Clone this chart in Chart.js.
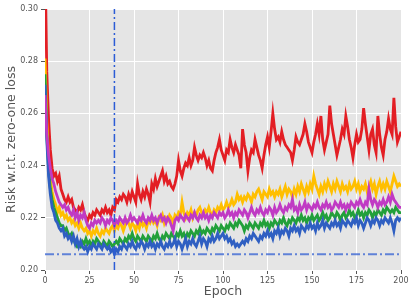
<!DOCTYPE html>
<html>
<head>
<meta charset="utf-8">
<script src="https://cdn.jsdelivr.net/npm/chart.js@4"></script>
<style>
  body { margin: 0; background: #fff; }
  canvas { display: block; }
</style>
</head>
<body>
<canvas id="lossChart" width="415" height="306"></canvas>
<script>
// risk per epoch (0..200)
const redRisk = [
  0.320, 0.276, 0.258, 0.246, 0.239, 0.236, 0.237, 0.234, 0.236, 0.231,
  0.229, 0.227, 0.226, 0.228, 0.226, 0.227, 0.224, 0.223, 0.222, 0.224,
  0.223, 0.225, 0.222, 0.220, 0.219, 0.221, 0.220, 0.222, 0.221, 0.223,
  0.222, 0.221, 0.223, 0.222, 0.224, 0.222, 0.223, 0.221, 0.224, 0.223,
  0.227, 0.226, 0.228, 0.227, 0.229, 0.228, 0.226, 0.229, 0.227, 0.230,
  0.228, 0.226, 0.233, 0.229, 0.227, 0.230, 0.228, 0.231, 0.229, 0.226,
  0.233, 0.231, 0.235, 0.232, 0.234, 0.236, 0.238, 0.234, 0.236, 0.233,
  0.234, 0.232, 0.231, 0.233, 0.236, 0.242, 0.238, 0.236, 0.239, 0.241,
  0.240, 0.243, 0.240, 0.242, 0.247, 0.244, 0.242, 0.244, 0.243, 0.245,
  0.243, 0.240, 0.242, 0.239, 0.238, 0.242, 0.245, 0.247, 0.250, 0.246,
  0.244, 0.242, 0.246, 0.245, 0.250, 0.247, 0.245, 0.248, 0.246, 0.244,
  0.239, 0.254, 0.248, 0.245, 0.238, 0.243, 0.246, 0.245, 0.250, 0.247,
  0.244, 0.242, 0.239, 0.244, 0.248, 0.251, 0.247, 0.253, 0.260, 0.254,
  0.250, 0.251, 0.249, 0.253, 0.250, 0.248, 0.247, 0.246, 0.245, 0.242,
  0.246, 0.251, 0.249, 0.248, 0.250, 0.252, 0.256, 0.253, 0.249, 0.247,
  0.245, 0.249, 0.252, 0.256, 0.252, 0.259, 0.250, 0.246, 0.249, 0.252,
  0.263, 0.256, 0.252, 0.248, 0.244, 0.247, 0.250, 0.254, 0.252, 0.259,
  0.255, 0.250, 0.247, 0.243, 0.248, 0.252, 0.249, 0.250, 0.254, 0.262,
  0.256, 0.251, 0.246, 0.252, 0.254, 0.248, 0.245, 0.259, 0.252, 0.247,
  0.244, 0.250, 0.253, 0.258, 0.254, 0.252, 0.266, 0.255, 0.249, 0.251,
  0.253
];
const yellowRisk = [
  0.281, 0.257, 0.243, 0.235, 0.230, 0.227, 0.225, 0.222, 0.224, 0.221,
  0.222, 0.220, 0.221, 0.219, 0.220, 0.218, 0.219, 0.217, 0.218, 0.216,
  0.218, 0.216, 0.215, 0.216, 0.214, 0.215, 0.213, 0.215, 0.214, 0.216,
  0.214, 0.213, 0.215, 0.214, 0.216, 0.215, 0.214, 0.216, 0.217, 0.215,
  0.217, 0.216, 0.218, 0.217, 0.215, 0.217, 0.219, 0.218, 0.216, 0.218,
  0.217, 0.215, 0.218, 0.216, 0.219, 0.217, 0.218, 0.216, 0.219, 0.218,
  0.220, 0.218, 0.219, 0.217, 0.220, 0.219, 0.221, 0.218, 0.220, 0.219,
  0.221, 0.220, 0.218, 0.221, 0.220, 0.222, 0.221, 0.226, 0.222, 0.220,
  0.222, 0.221, 0.223, 0.220, 0.222, 0.221, 0.223, 0.224, 0.222, 0.221,
  0.223, 0.222, 0.224, 0.222, 0.221, 0.223, 0.222, 0.224, 0.223, 0.225,
  0.223, 0.224, 0.226, 0.224, 0.225, 0.227, 0.225, 0.226, 0.229, 0.227,
  0.228, 0.226, 0.228, 0.227, 0.229, 0.228, 0.226, 0.229, 0.228, 0.230,
  0.231, 0.229, 0.227, 0.230, 0.229, 0.228, 0.231, 0.229, 0.230, 0.228,
  0.230, 0.229, 0.231, 0.228, 0.230, 0.232, 0.229, 0.231, 0.230, 0.228,
  0.231, 0.229, 0.232, 0.230, 0.233, 0.231, 0.229, 0.232, 0.230, 0.233,
  0.231, 0.236, 0.233, 0.231, 0.229, 0.232, 0.230, 0.233, 0.231, 0.234,
  0.232, 0.230, 0.233, 0.231, 0.234, 0.232, 0.230, 0.233, 0.231, 0.232,
  0.230, 0.233, 0.231, 0.232, 0.234, 0.231, 0.233, 0.230, 0.232, 0.231,
  0.233, 0.230, 0.232, 0.234, 0.231, 0.233, 0.229, 0.232, 0.234, 0.231,
  0.233, 0.231, 0.234, 0.232, 0.230, 0.233, 0.236, 0.234, 0.232, 0.233,
  0.232
];
const magentaRisk = [
  0.267, 0.252, 0.244, 0.239, 0.235, 0.233, 0.230, 0.228, 0.226, 0.225,
  0.224, 0.225, 0.223, 0.224, 0.222, 0.221, 0.223, 0.220, 0.222, 0.219,
  0.221, 0.220, 0.222, 0.219, 0.217, 0.216, 0.218, 0.217, 0.219, 0.218,
  0.219, 0.218, 0.220, 0.219, 0.217, 0.219, 0.218, 0.220, 0.219, 0.217,
  0.219, 0.218, 0.220, 0.219, 0.218, 0.220, 0.218, 0.219, 0.221, 0.219,
  0.220, 0.219, 0.218, 0.220, 0.219, 0.221, 0.219, 0.218, 0.220, 0.219,
  0.221, 0.219, 0.220, 0.218, 0.220, 0.221, 0.219, 0.220, 0.218, 0.220,
  0.219, 0.217, 0.215, 0.219, 0.220, 0.219, 0.221, 0.220, 0.219, 0.221,
  0.220, 0.219, 0.221, 0.220, 0.222, 0.220, 0.219, 0.221, 0.220, 0.222,
  0.220, 0.221, 0.219, 0.221, 0.220, 0.222, 0.221, 0.220, 0.222, 0.221,
  0.222, 0.220, 0.221, 0.223, 0.221, 0.222, 0.220, 0.222, 0.221, 0.223,
  0.222, 0.221, 0.223, 0.222, 0.220, 0.222, 0.224, 0.222, 0.221, 0.223,
  0.222, 0.224, 0.222, 0.221, 0.223, 0.222, 0.224, 0.223, 0.221, 0.224,
  0.222, 0.223, 0.225, 0.223, 0.222, 0.224, 0.223, 0.225, 0.224, 0.227,
  0.223, 0.224, 0.222, 0.225, 0.223, 0.224, 0.226, 0.223, 0.225, 0.224,
  0.223, 0.225, 0.224, 0.226, 0.224, 0.223, 0.225, 0.224, 0.226, 0.224,
  0.225, 0.223, 0.224, 0.226, 0.225, 0.224, 0.226, 0.224, 0.225, 0.223,
  0.225, 0.224, 0.226, 0.225, 0.224, 0.226, 0.225, 0.227, 0.225, 0.224,
  0.226, 0.225, 0.231, 0.227, 0.225, 0.227, 0.226, 0.224, 0.226, 0.225,
  0.227, 0.225, 0.226, 0.228, 0.226, 0.229, 0.227, 0.226, 0.225, 0.224,
  0.224
];
const greenRisk = [
  0.275, 0.252, 0.239, 0.231, 0.227, 0.224, 0.222, 0.220, 0.218, 0.217,
  0.217, 0.215, 0.216, 0.214, 0.213, 0.214, 0.212, 0.210, 0.209, 0.210,
  0.209, 0.211, 0.210, 0.212, 0.210, 0.211, 0.209, 0.211, 0.210, 0.212,
  0.211, 0.210, 0.209, 0.211, 0.210, 0.209, 0.211, 0.210, 0.209, 0.210,
  0.211, 0.210, 0.212, 0.211, 0.210, 0.212, 0.211, 0.213, 0.212, 0.214,
  0.212, 0.211, 0.213, 0.212, 0.211, 0.213, 0.212, 0.211, 0.213, 0.212,
  0.211, 0.213, 0.212, 0.214, 0.212, 0.211, 0.213, 0.212, 0.214, 0.213,
  0.212, 0.214, 0.213, 0.212, 0.214, 0.213, 0.215, 0.213, 0.214, 0.212,
  0.214, 0.213, 0.215, 0.214, 0.213, 0.215, 0.214, 0.216, 0.214, 0.215,
  0.214, 0.216, 0.215, 0.214, 0.216, 0.215, 0.217, 0.216, 0.215, 0.217,
  0.216, 0.215, 0.217, 0.216, 0.218, 0.217, 0.216, 0.218, 0.217, 0.219,
  0.218, 0.217, 0.215, 0.217, 0.216, 0.218, 0.217, 0.216, 0.218, 0.217,
  0.216, 0.218, 0.217, 0.219, 0.217, 0.218, 0.216, 0.218, 0.217, 0.219,
  0.218, 0.217, 0.219, 0.218, 0.220, 0.218, 0.217, 0.219, 0.218, 0.220,
  0.219, 0.218, 0.220, 0.219, 0.221, 0.219, 0.220, 0.218, 0.220, 0.219,
  0.221, 0.219, 0.220, 0.221, 0.219, 0.220, 0.222, 0.220, 0.221, 0.219,
  0.220, 0.222, 0.221, 0.220, 0.222, 0.221, 0.219, 0.221, 0.222, 0.220,
  0.221, 0.223, 0.221, 0.222, 0.220, 0.221, 0.223, 0.221, 0.222, 0.220,
  0.222, 0.221, 0.223, 0.222, 0.220, 0.222, 0.221, 0.223, 0.222, 0.221,
  0.223, 0.222, 0.224, 0.223, 0.222, 0.223, 0.222, 0.224, 0.223, 0.222,
  0.222
];
const blueRisk = [
  0.271, 0.250, 0.236, 0.229, 0.224, 0.222, 0.219, 0.218, 0.216, 0.215,
  0.216, 0.213, 0.214, 0.212, 0.213, 0.211, 0.213, 0.210, 0.212, 0.209,
  0.211, 0.209, 0.208, 0.209, 0.207, 0.209, 0.208, 0.210, 0.209, 0.208,
  0.210, 0.209, 0.208, 0.210, 0.209, 0.208, 0.209, 0.207, 0.208, 0.206,
  0.208, 0.207, 0.209, 0.208, 0.210, 0.209, 0.208, 0.210, 0.209, 0.211,
  0.209, 0.208, 0.210, 0.209, 0.211, 0.210, 0.208, 0.210, 0.209, 0.211,
  0.209, 0.210, 0.208, 0.210, 0.209, 0.211, 0.209, 0.208, 0.210, 0.209,
  0.211, 0.209, 0.210, 0.212, 0.209, 0.211, 0.210, 0.208, 0.210, 0.212,
  0.209, 0.211, 0.210, 0.212, 0.210, 0.209, 0.211, 0.213, 0.210, 0.212,
  0.211, 0.209, 0.212, 0.211, 0.213, 0.211, 0.212, 0.214, 0.212, 0.213,
  0.214, 0.212, 0.213, 0.211, 0.212, 0.210, 0.211, 0.209, 0.210, 0.209,
  0.210, 0.211, 0.210, 0.212, 0.211, 0.213, 0.212, 0.214, 0.213, 0.212,
  0.211, 0.213, 0.212, 0.214, 0.213, 0.215, 0.213, 0.214, 0.212, 0.215,
  0.214, 0.216, 0.213, 0.215, 0.214, 0.216, 0.215, 0.213, 0.216, 0.215,
  0.217, 0.215, 0.216, 0.214, 0.217, 0.216, 0.215, 0.217, 0.216, 0.218,
  0.216, 0.217, 0.215, 0.218, 0.216, 0.217, 0.219, 0.216, 0.218, 0.217,
  0.216, 0.218, 0.217, 0.219, 0.217, 0.218, 0.216, 0.219, 0.218, 0.217,
  0.219, 0.218, 0.217, 0.219, 0.218, 0.220, 0.217, 0.219, 0.218, 0.216,
  0.218, 0.220, 0.219, 0.217, 0.219, 0.218, 0.220, 0.219, 0.217, 0.219,
  0.218, 0.220, 0.219, 0.218, 0.220, 0.218, 0.215, 0.219, 0.220, 0.219,
  0.220
];

// reference lines: chosen epoch and best risk
const bestEpoch = 39;
const bestRisk = 0.206;

const xTicks = [0, 25, 50, 75, 100, 125, 150, 175, 200];
const yTicks = [0.20, 0.22, 0.24, 0.26, 0.28, 0.30];

const TICK_COLOR = '#555555';

function toPoints(values) {
  return values.map((v, i) => ({ x: i, y: v }));
}

function seriesDataset(values, color) {
  return {
    data: toPoints(values),
    borderColor: color,
    borderWidth: 2.8,
    pointRadius: 0,
    tension: 0,
    clip: 0
  };
}

const plotBackground = {
  id: 'plotBackground',
  beforeDraw(chart) {
    const { ctx, chartArea } = chart;
    ctx.save();
    ctx.fillStyle = '#e5e5e5';
    ctx.fillRect(chartArea.left, chartArea.top, chartArea.right - chartArea.left, chartArea.bottom - chartArea.top);
    ctx.restore();
  }
};

const ctx = document.getElementById('lossChart').getContext('2d');
new Chart(ctx, {
  type: 'line',
  data: {
    datasets: [
      {
        data: [{ x: bestEpoch, y: yTicks[0] }, { x: bestEpoch, y: yTicks[yTicks.length - 1] }],
        borderColor: '#2b5cd6',
        borderWidth: 1.5,
        borderDash: [8, 3, 2, 3],
        pointRadius: 0,
        clip: 0
      },
      {
        data: [{ x: xTicks[0], y: bestRisk }, { x: xTicks[xTicks.length - 1], y: bestRisk }],
        borderColor: 'rgba(50, 95, 210, 0.75)',
        borderWidth: 2,
        borderDash: [9, 3, 2, 3],
        pointRadius: 0,
        clip: 0
      },
      seriesDataset(magentaRisk, '#c03ac4'),
      seriesDataset(blueRisk, '#2f5fc2'),
      seriesDataset(greenRisk, '#22a03a'),
      seriesDataset(yellowRisk, '#ffbf00'),
      seriesDataset(redRisk, '#e31e24')
    ]
  },
  options: {
    responsive: false,
    animation: false,
    devicePixelRatio: 1,
    layout: { padding: { top: 9, right: 14, bottom: 0, left: 0 } },
    plugins: { legend: { display: false }, tooltip: { enabled: false } },
    scales: {
      x: {
        type: 'linear',
        min: 0,
        max: 200,
        afterFit: (scale) => { scale.height = 36; },
        afterBuildTicks: (scale) => { scale.ticks = xTicks.map(v => ({ value: v })); },
        border: { display: false },
        grid: { color: '#ffffff', lineWidth: 1, tickLength: 4, tickColor: TICK_COLOR, tickWidth: 1 },
        ticks: { color: TICK_COLOR, padding: 2, maxRotation: 0, font: { family: 'DejaVu Sans', size: 8 } },
        title: { display: true, text: 'Epoch', color: TICK_COLOR, padding: { top: 0, bottom: 6.5 }, font: { family: 'DejaVu Sans', size: 12.5 } }
      },
      y: {
        min: 0.2,
        max: 0.3,
        afterFit: (scale) => { scale.width = 45; },
        afterBuildTicks: (scale) => { scale.ticks = yTicks.map(v => ({ value: v })); },
        border: { display: false },
        grid: { color: '#ffffff', lineWidth: 1, tickLength: 4, tickColor: TICK_COLOR, tickWidth: 1 },
        ticks: { color: TICK_COLOR, padding: 3, callback: (v) => Number(v).toFixed(2), font: { family: 'DejaVu Sans', size: 8 } },
        title: { display: true, text: 'Risk w.r.t. zero-one loss', color: TICK_COLOR, padding: { top: 4, bottom: 0 }, font: { family: 'DejaVu Sans', size: 12.5 } }
      }
    }
  },
  plugins: [plotBackground]
});
</script>
</body>
</html>
